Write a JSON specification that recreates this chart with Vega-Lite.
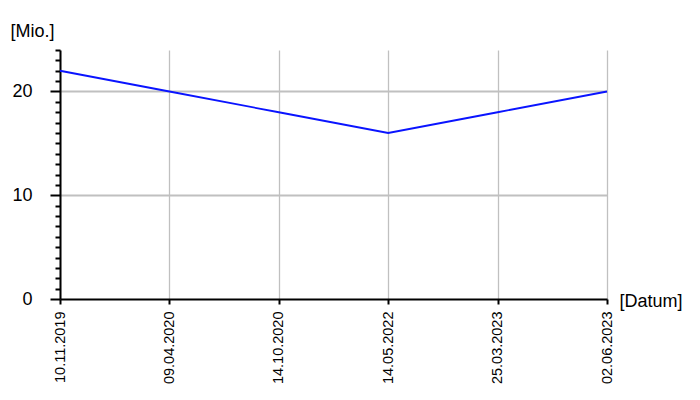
{
  "$schema": "https://vega.github.io/schema/vega-lite/v6.json",
  "width": 547,
  "height": 249,
  "autosize": "none",
  "padding": {"left": 60, "top": 50, "right": 93, "bottom": 101},
  "background": "white",
  "config": {"view": {"stroke": null}, "font": "Liberation Sans"},
  "data": {
    "values": [
      {"Datum": "10.11.2019", "Wert": 22},
      {"Datum": "09.04.2020", "Wert": 20},
      {"Datum": "14.10.2020", "Wert": 18},
      {"Datum": "14.05.2022", "Wert": 16},
      {"Datum": "25.03.2023", "Wert": 18},
      {"Datum": "02.06.2023", "Wert": 20}
    ]
  },
  "mark": {"type": "line", "color": "#0a14ff", "strokeWidth": 1.8},
  "encoding": {
    "x": {
      "field": "Datum",
      "type": "ordinal",
      "sort": null,
      "scale": {"type": "point", "padding": 0},
      "axis": {
        "title": "[Datum]",
        "titleAngle": 0,
        "titleX": 559,
        "titleY": 2,
        "titleAlign": "left",
        "titleBaseline": "middle",
        "titleFontSize": 18,
        "titleFontWeight": "normal",
        "titleColor": "black",
        "labelAngle": 270,
        "labelFontSize": 14.5,
        "labelColor": "black",
        "labelPadding": 7,
        "tickSize": 5,
        "tickWidth": 2,
        "tickColor": "black",
        "domainColor": "black",
        "domainWidth": 2,
        "grid": true,
        "gridColor": "#c0c0c0",
        "gridWidth": 1.3
      }
    },
    "y": {
      "field": "Wert",
      "type": "quantitative",
      "scale": {"domain": [0, 24], "nice": false},
      "axis": {
        "values": [0, 1, 2, 3, 4, 5, 6, 7, 8, 9, 10, 11, 12, 13, 14, 15, 16, 17, 18, 19, 20, 21, 22, 23, 24],
        "labelExpr": "datum.value % 10 === 0 ? datum.label : ''",
        "labelFontSize": 18,
        "labelColor": "black",
        "labelPadding": 18,
        "tickSize": {"condition": {"test": "datum.value % 10 === 0", "value": 10}, "value": 5},
        "tickWidth": 2,
        "tickColor": "black",
        "domainColor": "black",
        "domainWidth": 2,
        "grid": true,
        "gridColor": "#c0c0c0",
        "gridWidth": 2,
        "gridOpacity": {"condition": {"test": "datum.value % 10 === 0 && datum.value > 0", "value": 1}, "value": 0},
        "title": "[Mio.]",
        "titleAngle": 0,
        "titleX": -50,
        "titleY": -19,
        "titleAlign": "left",
        "titleBaseline": "middle",
        "titleFontSize": 18,
        "titleFontWeight": "normal",
        "titleColor": "black"
      }
    }
  }
}
